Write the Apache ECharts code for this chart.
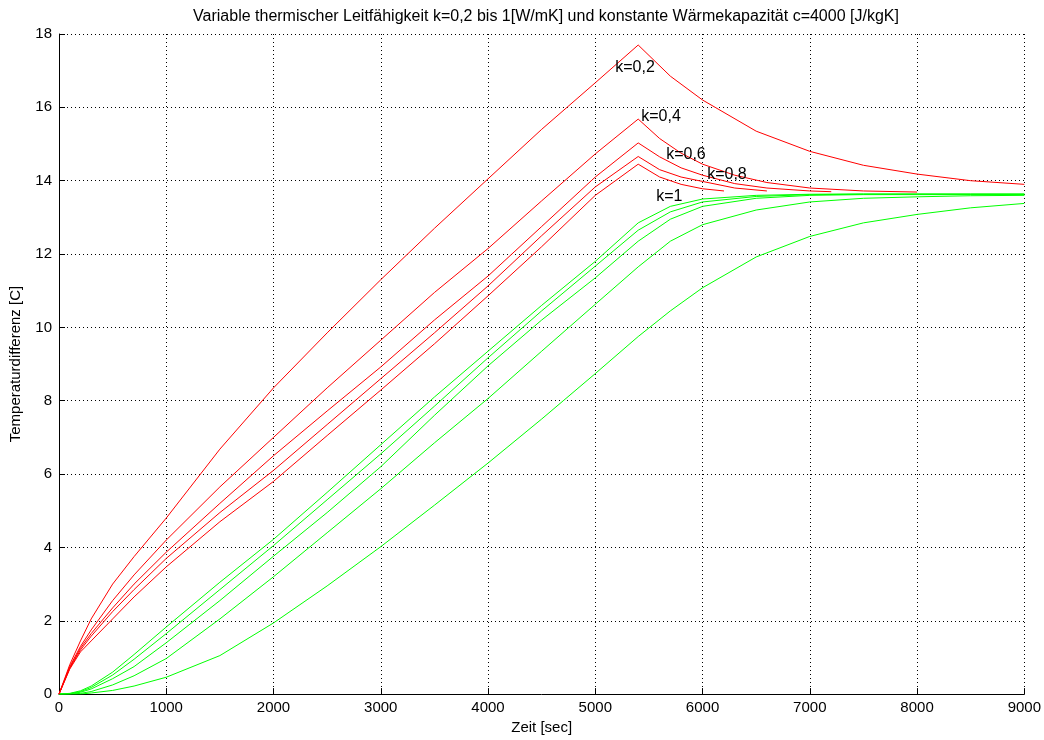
<!DOCTYPE html>
<html>
<head>
<meta charset="utf-8">
<script src="https://cdn.jsdelivr.net/npm/echarts@6/dist/echarts.min.js"></script>
<style>
  html, body { margin: 0; padding: 0; background: #fff; }
  #chart { width: 1044px; height: 740px; }
</style>
</head>
<body>
<div id="chart"></div>
<script>
// time grid of the heating phase (red curves), sec
var tRed = [0, 100, 200, 300, 500, 700, 1000, 1500, 2000, 2500, 3000, 3500, 4000, 4500, 5000, 5400];
var red02 = [0, 0.8, 1.45, 2.05, 3.0, 3.75, 4.8, 6.68, 8.35, 9.85, 11.3, 12.7, 14.05, 15.4, 16.67, 17.7];
var red04 = [0, 0.75, 1.3, 1.75, 2.55, 3.25, 4.2, 5.65, 7.0, 8.35, 9.65, 10.95, 12.15, 13.45, 14.73, 15.68];
var red06 = [0, 0.72, 1.25, 1.65, 2.35, 3.0, 3.87, 5.2, 6.5, 7.72, 8.92, 10.2, 11.4, 12.75, 14.1, 15.03];
var red08 = [0, 0.7, 1.2, 1.58, 2.25, 2.85, 3.7, 4.95, 6.1, 7.35, 8.6, 9.85, 11.13, 12.5, 13.83, 14.66];
var red10 = [0, 0.68, 1.15, 1.45, 2.05, 2.65, 3.47, 4.7, 5.8, 7.05, 8.29, 9.55, 10.86, 12.2, 13.6, 14.45];

// cooling phase after the peak, each curve has its own length
var tDec02 = [5400, 5700, 6000, 6500, 7000, 7500, 8000, 8500, 9000];
var dec02 = [17.7, 16.85, 16.2, 15.35, 14.8, 14.42, 14.18, 14.0, 13.9];
var tDec04 = [5400, 5600, 5800, 6000, 6300, 6600, 7000, 7500, 8000];
var dec04 = [15.68, 15.15, 14.75, 14.45, 14.15, 13.95, 13.8, 13.72, 13.69];
var tDec06 = [5400, 5600, 5800, 6000, 6300, 6600, 7000, 7200];
var dec06 = [15.03, 14.65, 14.35, 14.15, 13.92, 13.8, 13.72, 13.7];
var tDec08 = [5400, 5600, 5800, 6000, 6300, 6600];
var dec08 = [14.66, 14.3, 14.1, 13.98, 13.8, 13.72];
var tDec10 = [5400, 5600, 5800, 6000, 6200];
var dec10 = [14.45, 14.1, 13.9, 13.78, 13.72];

// green curves
var tGreen = [0, 100, 200, 300, 500, 700, 1000, 1500, 2000, 2500, 3000, 3500, 4000, 4500, 5000, 5400, 5700, 6000, 6500, 7000, 7500, 8000, 8500, 9000];
var green02 = [0, 0, 0, 0.03, 0.1, 0.22, 0.46, 1.05, 1.94, 2.95, 4.02, 5.15, 6.3, 7.5, 8.74, 9.75, 10.45, 11.08, 11.92, 12.48, 12.85, 13.08, 13.26, 13.38];
var green04 = [0, 0, 0.02, 0.07, 0.25, 0.5, 0.97, 2.05, 3.2, 4.4, 5.6, 6.85, 8.06, 9.35, 10.63, 11.65, 12.35, 12.8, 13.2, 13.42, 13.52, 13.56, 13.59, 13.6];
var green06 = [0, 0.01, 0.05, 0.14, 0.42, 0.75, 1.4, 2.55, 3.76, 4.95, 6.2, 7.6, 8.95, 10.2, 11.35, 12.35, 12.95, 13.3, 13.52, 13.6, 13.62, 13.62, 13.62, 13.62];
var green08 = [0, 0.01, 0.07, 0.18, 0.52, 0.95, 1.65, 2.85, 4.05, 5.3, 6.55, 7.85, 9.17, 10.45, 11.67, 12.65, 13.15, 13.42, 13.57, 13.62, 13.63, 13.63, 13.63, 13.63];
var green10 = [0, 0.02, 0.09, 0.22, 0.6, 1.08, 1.83, 3.05, 4.22, 5.5, 6.8, 8.1, 9.35, 10.6, 11.8, 12.85, 13.3, 13.5, 13.6, 13.63, 13.64, 13.64, 13.64, 13.64];

// curve labels: text, time, value
var labelText = ['k=0,2', 'k=0,4', 'k=0,6', 'k=0,8', 'k=1'];
var labelT = [5186, 5428, 5661, 6043, 5568];
var labelV = [17.08, 15.76, 14.7, 14.16, 13.57];

var fontFam = '"Liberation Sans", Arial, sans-serif';

function pairs(t, v) {
    var out = [];
    for (var i = 0; i < v.length; i++) out.push([t[i], v[i]]);
    return out;
}

function line(data, color) {
    return {
        type: 'line',
        data: data,
        showSymbol: false,
        smooth: false,
        silent: true,
        lineStyle: { color: color, width: 1 },
        z: color === '#ff0000' ? 3 : 2
    };
}

var series = [];
series.push(line(pairs(tGreen, green02), '#00ff00'));
series.push(line(pairs(tGreen, green04), '#00ff00'));
series.push(line(pairs(tGreen, green06), '#00ff00'));
series.push(line(pairs(tGreen, green08), '#00ff00'));
series.push(line(pairs(tGreen, green10), '#00ff00'));

series.push(line(pairs(tRed, red02), '#ff0000'));
series.push(line(pairs(tRed, red04), '#ff0000'));
series.push(line(pairs(tRed, red06), '#ff0000'));
series.push(line(pairs(tRed, red08), '#ff0000'));
series.push(line(pairs(tRed, red10), '#ff0000'));
series.push(line(pairs(tDec02, dec02), '#ff0000'));
series.push(line(pairs(tDec04, dec04), '#ff0000'));
series.push(line(pairs(tDec06, dec06), '#ff0000'));
series.push(line(pairs(tDec08, dec08), '#ff0000'));
series.push(line(pairs(tDec10, dec10), '#ff0000'));

// labels as a markPoint on an empty helper series
var marks = [];
for (var i = 0; i < labelText.length; i++) {
    marks.push({ coord: [labelT[i], labelV[i]], value: labelText[i] });
}
series.push({
    type: 'line',
    data: [],
    silent: true,
    markPoint: {
        symbol: 'circle',
        symbolSize: 0,
        silent: true,
        label: {
            show: true,
            position: [0, 0],
            align: 'left',
            verticalAlign: 'middle',
            formatter: '{c}',
            color: '#000',
            fontSize: 16,
            fontFamily: fontFam
        },
        data: marks
    }
});

var chart = echarts.init(document.getElementById('chart'), null, { renderer: 'canvas' });

var option = {
    animation: false,
    backgroundColor: '#ffffff',
    title: {
        text: 'Variable thermischer Leitfähigkeit k=0,2 bis 1[W/mK] und konstante Wärmekapazität c=4000 [J/kgK]',
        left: 541,
        textAlign: 'center',
        top: 4,
        textStyle: { color: '#000', fontSize: 16, fontWeight: 'normal', fontFamily: fontFam }
    },
    grid: { left: 57, right: 19, top: 34, bottom: 40 },
    xAxis: {
        type: 'value',
        min: 0,
        max: 9000,
        interval: 1000,
        name: 'Zeit [sec]',
        nameLocation: 'middle',
        nameGap: 24,
        nameTextStyle: { color: '#000', fontSize: 15, fontFamily: fontFam },
        axisLine: { lineStyle: { color: '#000', width: 1 } },
        axisTick: { inside: true, length: 6, lineStyle: { color: '#000' } },
        axisLabel: { color: '#000', fontSize: 15, fontFamily: fontFam, margin: 6,
            formatter: function (v) { return String(v); } },
        splitLine: { show: true, lineStyle: { color: '#000', type: [1, 3], width: 1 } }
    },
    yAxis: {
        type: 'value',
        min: 0,
        max: 18,
        interval: 2,
        name: 'Temperaturdifferenz [C]',
        nameLocation: 'middle',
        nameGap: 36,
        nameRotate: 90,
        nameTextStyle: { color: '#000', fontSize: 15, fontFamily: fontFam },
        axisLine: { lineStyle: { color: '#000', width: 1 } },
        axisTick: { inside: true, length: 6, lineStyle: { color: '#000' } },
        axisLabel: { color: '#000', fontSize: 15, fontFamily: fontFam, margin: 7,
            formatter: function (v) { return String(v); } },
        splitLine: { show: true, lineStyle: { color: '#000', type: [1, 3], width: 1 } }
    },
    series: series
};

chart.setOption(option);
</script>
</body>
</html>
